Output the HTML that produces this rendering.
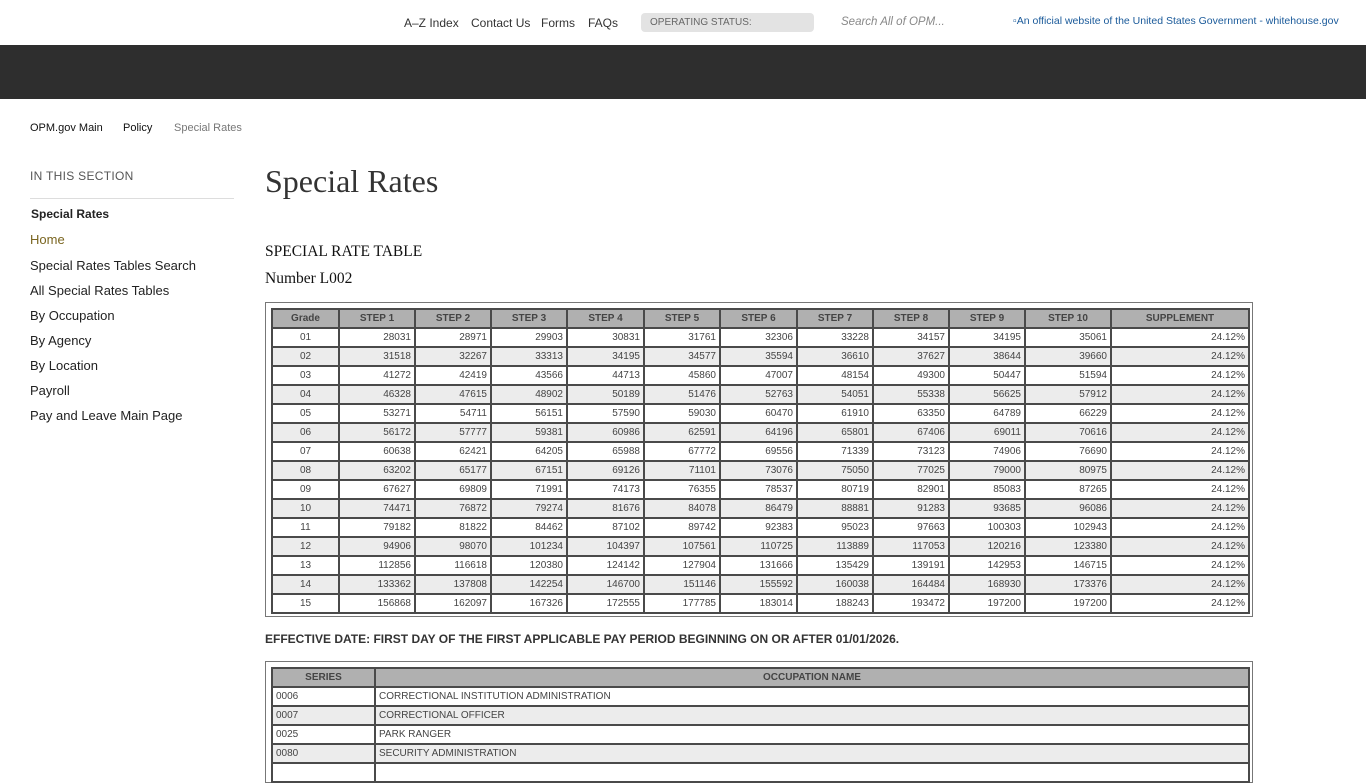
<!DOCTYPE html>
<html><head><meta charset="utf-8"><style>
body{margin:0;width:1366px;height:768px;overflow:hidden;background:#fff;font-family:"Liberation Sans",Arial,sans-serif;position:relative}
.a{position:absolute;white-space:nowrap}
.top a{color:#333;font-size:12px;text-decoration:none}
.side{font-size:13px;color:#222}
table{border-collapse:collapse;table-layout:fixed;position:absolute;font-size:10px;color:#444}
td,th{border:2px solid #4a4a4a;height:17px;padding:0 3px;line-height:17px;overflow:hidden;white-space:nowrap;box-sizing:border-box}
th{background:#b0b0b0;font-weight:bold;color:#444;text-align:center}
#t1 td{text-align:right}
#t1 td:first-child{text-align:center}
tr:nth-child(odd) td{background:#ececec}
.box{position:absolute;border:1px solid #777}
</style></head><body>
<div class="a top" style="left:404px;top:14px"><a>A–Z Index</a></div>
<div class="a top" style="left:471px;top:14px"><a>Contact Us</a></div>
<div class="a top" style="left:541px;top:14px"><a>Forms</a></div>
<div class="a top" style="left:588px;top:14px"><a>FAQs</a></div>
<div class="a" style="left:641px;top:13px;width:173px;height:19px;background:#e3e3e3;border-radius:4px;font-size:10px;color:#666;line-height:19px;padding-left:9px;box-sizing:border-box">OPERATING STATUS:</div>
<div class="a" style="left:841px;top:16px;font-size:11.5px;color:#888;font-style:italic">Search All of OPM...</div>
<div class="a" style="left:1013px;top:15px;font-size:10.5px;color:#1a5a9a">▫An official website of the United States Government - whitehouse.gov</div>
<div class="a" style="left:0;top:45px;width:1366px;height:54px;background:#2e2e2e"></div>
<div class="a" style="left:30px;top:122px;font-size:11px;color:#111">OPM.gov Main</div>
<div class="a" style="left:123px;top:122px;font-size:11px;color:#111">Policy</div>
<div class="a" style="left:174px;top:122px;font-size:11px;color:#777">Special Rates</div>
<div class="a" style="left:30px;top:169px;font-size:12px;color:#555;letter-spacing:.3px">IN THIS SECTION</div>
<div class="a" style="left:30px;top:198px;width:204px;height:1px;background:#ddd"></div>
<div class="a side" style="left:31px;top:207px;font-weight:bold;font-size:12px">Special Rates</div>
<div class="a side" style="left:30px;top:232px;color:#7a6520">Home</div>
<div class="a side" style="left:30px;top:258px">Special Rates Tables Search</div>
<div class="a side" style="left:30px;top:283px">All Special Rates Tables</div>
<div class="a side" style="left:30px;top:308px">By Occupation</div>
<div class="a side" style="left:30px;top:333px">By Agency</div>
<div class="a side" style="left:30px;top:358px">By Location</div>
<div class="a side" style="left:30px;top:383px">Payroll</div>
<div class="a side" style="left:30px;top:408px">Pay and Leave Main Page</div>
<div class="a" style="left:265px;top:163px;font-family:'Liberation Serif',serif;font-size:32px;color:#333">Special Rates</div>
<div class="a" style="left:265px;top:243px;font-family:'Liberation Serif',serif;font-size:15.5px;color:#111">SPECIAL RATE TABLE</div>
<div class="a" style="left:265px;top:270px;font-family:'Liberation Serif',serif;font-size:15.5px;color:#111">Number L002</div>
<div class="box" style="left:265px;top:302px;width:986px;height:313px"></div>
<table id="t1" style="left:271px;top:308px;width:977px">
<colgroup><col style="width:67px"><col style="width:76px"><col style="width:76px"><col style="width:76px"><col style="width:77px"><col style="width:76px"><col style="width:77px"><col style="width:76px"><col style="width:76px"><col style="width:76px"><col style="width:86px"><col style="width:138px"></colgroup>
<tr><th>Grade</th><th>STEP 1</th><th>STEP 2</th><th>STEP 3</th><th>STEP 4</th><th>STEP 5</th><th>STEP 6</th><th>STEP 7</th><th>STEP 8</th><th>STEP 9</th><th>STEP 10</th><th>SUPPLEMENT</th></tr>
<tr><td>01</td><td>28031</td><td>28971</td><td>29903</td><td>30831</td><td>31761</td><td>32306</td><td>33228</td><td>34157</td><td>34195</td><td>35061</td><td>24.12%</td></tr>
<tr><td>02</td><td>31518</td><td>32267</td><td>33313</td><td>34195</td><td>34577</td><td>35594</td><td>36610</td><td>37627</td><td>38644</td><td>39660</td><td>24.12%</td></tr>
<tr><td>03</td><td>41272</td><td>42419</td><td>43566</td><td>44713</td><td>45860</td><td>47007</td><td>48154</td><td>49300</td><td>50447</td><td>51594</td><td>24.12%</td></tr>
<tr><td>04</td><td>46328</td><td>47615</td><td>48902</td><td>50189</td><td>51476</td><td>52763</td><td>54051</td><td>55338</td><td>56625</td><td>57912</td><td>24.12%</td></tr>
<tr><td>05</td><td>53271</td><td>54711</td><td>56151</td><td>57590</td><td>59030</td><td>60470</td><td>61910</td><td>63350</td><td>64789</td><td>66229</td><td>24.12%</td></tr>
<tr><td>06</td><td>56172</td><td>57777</td><td>59381</td><td>60986</td><td>62591</td><td>64196</td><td>65801</td><td>67406</td><td>69011</td><td>70616</td><td>24.12%</td></tr>
<tr><td>07</td><td>60638</td><td>62421</td><td>64205</td><td>65988</td><td>67772</td><td>69556</td><td>71339</td><td>73123</td><td>74906</td><td>76690</td><td>24.12%</td></tr>
<tr><td>08</td><td>63202</td><td>65177</td><td>67151</td><td>69126</td><td>71101</td><td>73076</td><td>75050</td><td>77025</td><td>79000</td><td>80975</td><td>24.12%</td></tr>
<tr><td>09</td><td>67627</td><td>69809</td><td>71991</td><td>74173</td><td>76355</td><td>78537</td><td>80719</td><td>82901</td><td>85083</td><td>87265</td><td>24.12%</td></tr>
<tr><td>10</td><td>74471</td><td>76872</td><td>79274</td><td>81676</td><td>84078</td><td>86479</td><td>88881</td><td>91283</td><td>93685</td><td>96086</td><td>24.12%</td></tr>
<tr><td>11</td><td>79182</td><td>81822</td><td>84462</td><td>87102</td><td>89742</td><td>92383</td><td>95023</td><td>97663</td><td>100303</td><td>102943</td><td>24.12%</td></tr>
<tr><td>12</td><td>94906</td><td>98070</td><td>101234</td><td>104397</td><td>107561</td><td>110725</td><td>113889</td><td>117053</td><td>120216</td><td>123380</td><td>24.12%</td></tr>
<tr><td>13</td><td>112856</td><td>116618</td><td>120380</td><td>124142</td><td>127904</td><td>131666</td><td>135429</td><td>139191</td><td>142953</td><td>146715</td><td>24.12%</td></tr>
<tr><td>14</td><td>133362</td><td>137808</td><td>142254</td><td>146700</td><td>151146</td><td>155592</td><td>160038</td><td>164484</td><td>168930</td><td>173376</td><td>24.12%</td></tr>
<tr><td>15</td><td>156868</td><td>162097</td><td>167326</td><td>172555</td><td>177785</td><td>183014</td><td>188243</td><td>193472</td><td>197200</td><td>197200</td><td>24.12%</td></tr>
</table>
<div class="a" style="left:265px;top:632px;font-size:12px;font-weight:bold;color:#333">EFFECTIVE DATE: FIRST DAY OF THE FIRST APPLICABLE PAY PERIOD BEGINNING ON OR AFTER 01/01/2026.</div>
<div class="box" style="left:265px;top:661px;width:986px;height:120px"></div>
<table id="t2" style="left:271px;top:667px;width:977px">
<colgroup><col style="width:103px"><col style="width:874px"></colgroup>
<tr><th>SERIES</th><th>OCCUPATION NAME</th></tr>
<tr><td>0006</td><td>CORRECTIONAL INSTITUTION ADMINISTRATION</td></tr>
<tr><td>0007</td><td>CORRECTIONAL OFFICER</td></tr>
<tr><td>0025</td><td>PARK RANGER</td></tr>
<tr><td>0080</td><td>SECURITY ADMINISTRATION</td></tr>
<tr><td>&nbsp;</td><td>&nbsp;</td></tr>
</table>
</body></html>
